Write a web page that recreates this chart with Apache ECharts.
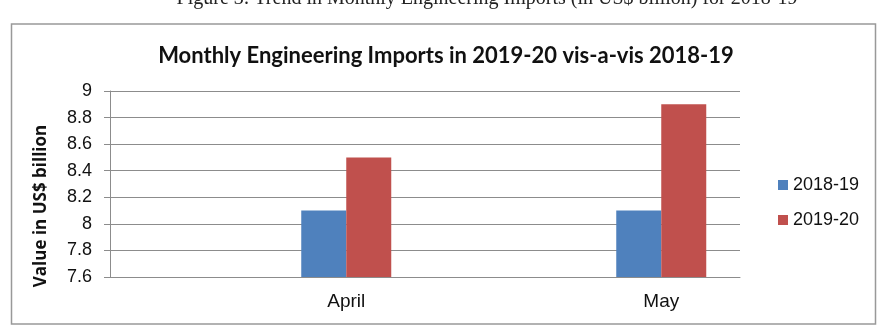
<!DOCTYPE html>
<html>
<head>
<meta charset="utf-8">
<script src="https://cdn.jsdelivr.net/npm/echarts@6/dist/echarts.min.js"></script>
<style>
  html, body { margin: 0; padding: 0; background: #fff; }
  #chart { width: 880px; height: 328px; }
</style>
</head>
<body>
<div id="chart"></div>
<script>
// blank columns sit between the months in the source sheet
const months = ['', 'April', '', 'May']
const imports2018 = [null, 8.1, null, 8.1]
const imports2019 = [null, 8.5, null, 8.9]
const seriesNames = ['2018-19', '2019-20']

const chart = echarts.init(document.getElementById('chart'))

chart.setOption({
  animation: false,
  backgroundColor: '#fff',
  title: {
    text: 'Monthly Engineering Imports in 2019-20 vis-a-vis 2018-19',
    left: 441,
    textAlign: 'center',
    top: 40,
    textStyle: { fontFamily: 'Lato', fontWeight: 'bold', fontSize: 22, color: '#111' }
  },
  graphic: [
    {
      type: 'text',
      x: 487,
      y: -11,
      style: {
        text: 'Figure 3: Trend in Monthly Engineering Imports (in US$ billion) for 2018-19',
        font: '20px "Liberation Serif"',
        fill: '#222',
        align: 'center'
      }
    },
    {
      type: 'rect',
      shape: { x: 11.5, y: 24, width: 864, height: 300 },
      style: { fill: 'none', stroke: '#999', lineWidth: 1.5 },
      z: -1
    },
    {
      type: 'text',
      x: 41,
      y: 206,
      rotation: Math.PI / 2,
      style: {
        text: 'Value in US$ billion',
        font: 'bold 17px "Open Sans"',
        fill: '#111',
        align: 'center',
        verticalAlign: 'middle'
      }
    }
  ],
  legend: {
    orient: 'vertical',
    left: 773,
    top: 171,
    itemWidth: 10,
    itemHeight: 10,
    itemGap: 17,
    icon: 'rect',
    textStyle: { fontFamily: 'Liberation Sans', fontSize: 18, color: '#111' },
    data: seriesNames
  },
  grid: { left: 110, right: 140, top: 91, bottom: 51 },
  xAxis: {
    type: 'category',
    data: months,
    axisTick: { show: false },
    axisLine: { lineStyle: { color: '#8c8c8c' } },
    axisLabel: { fontFamily: 'Liberation Sans', fontSize: 19, color: '#111', margin: 15 }
  },
  yAxis: {
    type: 'value',
    min: 7.6,
    max: 9,
    interval: 0.2,
    axisLine: { show: true, lineStyle: { color: '#8c8c8c' } },
    axisTick: { show: true, length: 6, lineStyle: { color: '#8c8c8c' } },
    splitLine: { lineStyle: { color: '#8c8c8c' } },
    axisLabel: {
      fontFamily: 'Liberation Sans',
      fontSize: 18,
      color: '#111',
      margin: 18,
      formatter: v => String(Math.round(v * 10) / 10)
    }
  },
  series: [
    {
      name: seriesNames[0],
      type: 'bar',
      data: imports2018,
      barWidth: 45,
      barGap: '0%',
      itemStyle: { color: '#4F81BD' }
    },
    {
      name: seriesNames[1],
      type: 'bar',
      data: imports2019,
      barWidth: 45,
      barGap: '0%',
      itemStyle: { color: '#C0504D' }
    }
  ]
})
</script>
</body>
</html>
